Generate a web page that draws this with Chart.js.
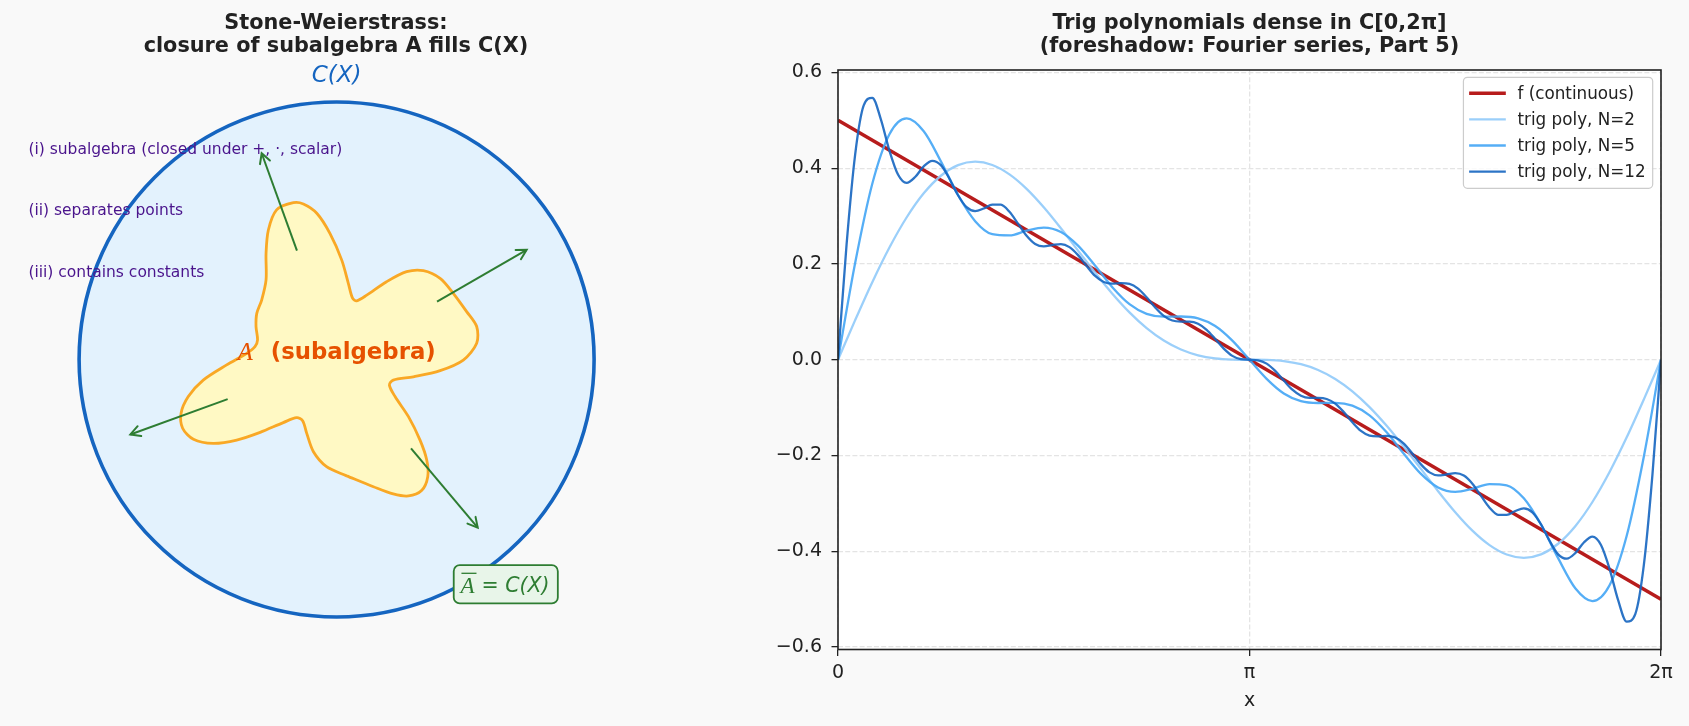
<!DOCTYPE html>
<html>
<head>
<meta charset="utf-8">
<script src="https://cdn.jsdelivr.net/npm/chart.js@4.4.1/dist/chart.umd.min.js"></script>
<style>
  html, body { margin: 0; padding: 0; background: #f9f9f9; width: 1689px; height: 726px; overflow: hidden; }
  #left { position: absolute; left: 0; top: 0; }
  #right { position: absolute; left: 672px; top: 0; }
</style>
</head>
<body>
<canvas id="left" width="672" height="726"></canvas>
<canvas id="right" width="1017" height="726"></canvas>
<script>
// ---------------- Right panel data ----------------
const xFine = [0, 0.0654, 0.1309, 0.1963, 0.2618, 0.3272, 0.3927, 0.4581, 0.5236, 0.5890, 0.6545, 0.7199, 0.7854, 0.8508, 0.9163, 0.9817, 1.0472, 1.1126, 1.1781, 1.2435, 1.3090, 1.3744, 1.4399, 1.5053, 1.5708, 1.6362, 1.7017, 1.7671, 1.8326, 1.8980, 1.9635, 2.0289, 2.0944, 2.1598, 2.2253, 2.2907, 2.3562, 2.4216, 2.4871, 2.5525, 2.6180, 2.6834, 2.7489, 2.8143, 2.8798, 2.9452, 3.0107, 3.0761, 3.1416, 3.2070, 3.2725, 3.3379, 3.4034, 3.4688, 3.5343, 3.5997, 3.6652, 3.7306, 3.7961, 3.8615, 3.9270, 3.9924, 4.0579, 4.1233, 4.1888, 4.2542, 4.3197, 4.3851, 4.4506, 4.5160, 4.5815, 4.6469, 4.7124, 4.7778, 4.8433, 4.9087, 4.9742, 5.0396, 5.1051, 5.1705, 5.2360, 5.3014, 5.3669, 5.4323, 5.4978, 5.5632, 5.6287, 5.6941, 5.7596, 5.8250, 5.8905, 5.9559, 6.0214, 6.0868, 6.1523, 6.2177, 6.2832];
const xCoarse = [0, 0.1309, 0.2618, 0.3927, 0.5236, 0.6545, 0.7854, 0.9163, 1.0472, 1.1781, 1.3090, 1.4399, 1.5708, 1.7017, 1.8326, 1.9635, 2.0944, 2.2253, 2.3562, 2.4871, 2.6180, 2.7489, 2.8798, 3.0107, 3.1416, 3.2725, 3.4034, 3.5343, 3.6652, 3.7961, 3.9270, 4.0579, 4.1888, 4.3197, 4.4506, 4.5815, 4.7124, 4.8433, 4.9742, 5.1051, 5.2360, 5.3669, 5.4978, 5.6287, 5.7596, 5.8905, 6.0214, 6.1523, 6.2832];
const xLine = [0, 6.2832];

const fValues = [0.5, -0.5];
const n2Values = [0, 0.0827, 0.1620, 0.2344, 0.2970, 0.3475, 0.3842, 0.4063, 0.4135, 0.4066, 0.3870, 0.3568, 0.3183, 0.2744, 0.2279, 0.1815, 0.1378, 0.0988, 0.0659, 0.0400, 0.0213, 0.0093, 0.0028, 0.0004, 0,
  -0.0004, -0.0028, -0.0093, -0.0213, -0.0400, -0.0659, -0.0988, -0.1378, -0.1815, -0.2279, -0.2744, -0.3183, -0.3568, -0.3870, -0.4066, -0.4135, -0.4063, -0.3842, -0.3475, -0.2970, -0.2344, -0.1620, -0.0827, 0];
const n5Values = [0, 0.2019, 0.3674, 0.4708, 0.5038, 0.4770, 0.4143, 0.3440, 0.2894, 0.2621, 0.2596, 0.2695, 0.2759, 0.2667, 0.2383, 0.1962, 0.1516, 0.1161, 0.0959, 0.0900, 0.0903, 0.0865, 0.0704, 0.0399, 0,
  -0.0399, -0.0704, -0.0865, -0.0903, -0.0900, -0.0959, -0.1161, -0.1516, -0.1962, -0.2383, -0.2667, -0.2759, -0.2695, -0.2596, -0.2621, -0.2894, -0.3440, -0.4143, -0.4770, -0.5038, -0.4708, -0.3674, -0.2019, 0];
const n12Values = [0, 0.2405, 0.4285, 0.5312, 0.5470, 0.5020, 0.4365, 0.3867, 0.3692, 0.3815, 0.4038, 0.4154, 0.4063, 0.3780, 0.3435, 0.3185, 0.3104, 0.3159, 0.3241, 0.3237, 0.3089, 0.2842, 0.2588, 0.2418, 0.2368, 0.2395, 0.2415, 0.2352, 0.2185, 0.1958, 0.1750, 0.1624, 0.1590, 0.1601, 0.1585, 0.1486, 0.1305, 0.1092, 0.0915, 0.0819, 0.0798, 0.0797, 0.0752, 0.0626, 0.0434, 0.0232, 0.0081, 0.0011, 0,
  -0.0011, -0.0081, -0.0232, -0.0434, -0.0626, -0.0752, -0.0797, -0.0798, -0.0819, -0.0915, -0.1092, -0.1305, -0.1486, -0.1585, -0.1601, -0.1590, -0.1624, -0.1750, -0.1958, -0.2185, -0.2352, -0.2415, -0.2395, -0.2368, -0.2418, -0.2588, -0.2842, -0.3089, -0.3237, -0.3241, -0.3159, -0.3104, -0.3185, -0.3435, -0.3780, -0.4063, -0.4154, -0.4038, -0.3815, -0.3692, -0.3867, -0.4365, -0.5020, -0.5470, -0.5312, -0.4285, -0.2405, 0];

const seriesLabels = ['f (continuous)', 'trig poly, N=2', 'trig poly, N=5', 'trig poly, N=12'];
const xTickValues = [0, 3.14159265, 6.28318531];
const xTickLabels = ['0', 'π', '2π'];
const yTickValues = [-0.6, -0.4, -0.2, 0, 0.2, 0.4, 0.6];
const yTickLabels = ['−0.6', '−0.4', '−0.2', '0.0', '0.2', '0.4', '0.6'];
const rightTitle = ['Trig polynomials dense in C[0,2π]', '(foreshadow: Fourier series, Part 5)'];
const xAxisTitle = 'x';

// ---------------- Left panel data ----------------
const leftTitle = ['Stone-Weierstrass:', 'closure of subalgebra A fills C(X)'];
const circleCenter = [0, 0];
const circleRadius = 1;
const blobX = [0.039, 0.143, 0.220, 0.279, 0.330, 0.354, 0.350, 0.324, 0.279, 0.227, 0.205, 0.220, 0.298, 0.402, 0.492, 0.544, 0.544, 0.505, 0.453, 0.402, 0.337, 0.272, 0.194, 0.117, 0.078, 0.062, 0.046, 0.020, -0.026, -0.077, -0.129,
  -0.168, -0.233, -0.265, -0.274, -0.274, -0.291, -0.310, -0.313, -0.307, -0.317, -0.349, -0.427, -0.518, -0.576, -0.604, -0.598, -0.556, -0.479, -0.388, -0.297, -0.207, -0.155, -0.132, -0.116, -0.090, -0.039, 0.039];
const blobY = [-0.452, -0.494, -0.522, -0.530, -0.509, -0.455, -0.390, -0.313, -0.222, -0.144, -0.099, -0.080, -0.067, -0.043, -0.002, 0.063, 0.128, 0.186, 0.257, 0.315, 0.345, 0.341, 0.302, 0.250, 0.228, 0.238, 0.294, 0.386, 0.490, 0.568, 0.604,
  0.609, 0.581, 0.503, 0.412, 0.309, 0.231, 0.179, 0.128, 0.076, 0.050, 0.024, -0.021, -0.080, -0.144, -0.209, -0.267, -0.310, -0.326, -0.313, -0.283, -0.245, -0.226, -0.238, -0.287, -0.358, -0.416, -0.452];
const arrowTails = [[-0.154, 0.423], [0.390, 0.225], [-0.423, -0.154], [0.289, -0.345]];
const arrowHeads = [[-0.291, 0.801], [0.738, 0.426], [-0.801, -0.291], [0.548, -0.653]];
const spaceLabel = 'C(X)';
const spaceLabelPos = [0, 1.101];
const propertyLabels = ['(i) subalgebra (closed under +, ·, scalar)', '(ii) separates points', '(iii) contains constants'];
const propertyX = -1.197;
const propertyY = [0.814, 0.578, 0.337];
const subSymbol = 'A';
const subLabel = '(subalgebra)';
const subLabelPos = [0, 0.026];
const closureSymbol = 'A';
const closureRest = '= C(X)';
const closurePos = [0.657, -0.873];

// ---------------- helpers ----------------
const toPoints = (xs, ys) => xs.map((x, i) => ({ x: x, y: ys[i] }));
const labelFor = (vals, labels, v) => {
  const k = vals.findIndex(t => Math.abs(t - v) < 1e-6);
  return k >= 0 ? labels[k] : '';
};
function roundRectPath(ctx, x, y, w, h, r) {
  ctx.beginPath();
  ctx.moveTo(x + r, y);
  ctx.lineTo(x + w - r, y);
  ctx.arcTo(x + w, y, x + w, y + r, r);
  ctx.lineTo(x + w, y + h - r);
  ctx.arcTo(x + w, y + h, x + w - r, y + h, r);
  ctx.lineTo(x + r, y + h);
  ctx.arcTo(x, y + h, x, y + h - r, r);
  ctx.lineTo(x, y + r);
  ctx.arcTo(x, y, x + r, y, r);
  ctx.closePath();
}

// ---------------- Left chart ----------------
const diagramPlugin = {
  id: 'diagram',
  beforeDatasetsDraw(chart) {
    const ctx = chart.ctx, sx = chart.scales.x, sy = chart.scales.y;
    const cx = sx.getPixelForValue(circleCenter[0]);
    const cy = sy.getPixelForValue(circleCenter[1]);
    const r = sx.getPixelForValue(circleCenter[0] + circleRadius) - cx;
    ctx.save();
    ctx.beginPath();
    ctx.arc(cx, cy, r, 0, Math.PI * 2);
    ctx.fillStyle = '#e3f2fd';
    ctx.fill();
    ctx.lineWidth = 3.6;
    ctx.strokeStyle = '#1565c0';
    ctx.stroke();
    ctx.restore();
  },
  afterDatasetsDraw(chart) {
    const ctx = chart.ctx;
    chart.data.datasets.forEach((ds, i) => {
      if (!ds.isArrow) return;
      const pts = chart.getDatasetMeta(i).data;
      const a = pts[0], b = pts[1];
      const ang = Math.atan2(b.y - a.y, b.x - a.x);
      const L = 11, spread = 0.5;
      ctx.save();
      ctx.strokeStyle = ds.borderColor;
      ctx.lineWidth = ds.borderWidth;
      ctx.lineCap = 'round';
      ctx.beginPath();
      ctx.moveTo(b.x - L * Math.cos(ang - spread), b.y - L * Math.sin(ang - spread));
      ctx.lineTo(b.x, b.y);
      ctx.lineTo(b.x - L * Math.cos(ang + spread), b.y - L * Math.sin(ang + spread));
      ctx.stroke();
      ctx.restore();
    });
  },
  afterDraw(chart) {
    const ctx = chart.ctx, sx = chart.scales.x, sy = chart.scales.y;
    ctx.save();
    ctx.textBaseline = 'middle';
    // C(X)
    ctx.font = 'italic 23px "DejaVu Sans"';
    ctx.fillStyle = '#1565c0';
    ctx.textAlign = 'center';
    ctx.fillText(spaceLabel, sx.getPixelForValue(spaceLabelPos[0]), sy.getPixelForValue(spaceLabelPos[1]));
    // property labels
    ctx.font = '15.5px "DejaVu Sans"';
    ctx.fillStyle = '#4a148c';
    ctx.textAlign = 'left';
    propertyLabels.forEach((t, i) => ctx.fillText(t, sx.getPixelForValue(propertyX), sy.getPixelForValue(propertyY[i])));
    // subalgebra label
    ctx.font = 'italic 25px "Liberation Serif"';
    const wA = ctx.measureText(subSymbol).width;
    ctx.font = 'bold 22.8px "DejaVu Sans"';
    const wS = ctx.measureText(subLabel).width;
    const gap = 18;
    const total = wA + gap + wS;
    const lx = sx.getPixelForValue(subLabelPos[0]) - total / 2;
    const ly = sy.getPixelForValue(subLabelPos[1]);
    ctx.fillStyle = '#e65100';
    ctx.font = 'italic 25px "Liberation Serif"';
    ctx.fillText(subSymbol, lx, ly + 1);
    ctx.font = 'bold 22.8px "DejaVu Sans"';
    ctx.fillText(subLabel, lx + wA + gap, ly);
    // closure box
    ctx.font = 'italic 23px "Liberation Serif"';
    const wC = ctx.measureText(closureSymbol).width;
    ctx.font = 'italic 20.5px "DejaVu Sans"';
    const wR = ctx.measureText(closureRest).width;
    const g2 = 7;
    const cw = wC + g2 + wR;
    const bw = cw + 15, bh = 38.3;
    const bcx = sx.getPixelForValue(closurePos[0]);
    const bcy = sy.getPixelForValue(closurePos[1]);
    const bx = bcx - bw / 2, by = bcy - bh / 2;
    roundRectPath(ctx, bx, by, bw, bh, 6);
    ctx.fillStyle = '#e8f5e9';
    ctx.fill();
    ctx.lineWidth = 1.8;
    ctx.strokeStyle = '#2e7d32';
    ctx.stroke();
    ctx.fillStyle = '#2e7d32';
    const tx = bx + 6.7;
    ctx.font = 'italic 23px "Liberation Serif"';
    ctx.fillText(closureSymbol, tx, bcy + 3);
    ctx.lineWidth = 1.3;
    ctx.beginPath();
    ctx.moveTo(tx + 1, bcy - 11);
    ctx.lineTo(tx + wC + 2, bcy - 11);
    ctx.stroke();
    ctx.font = 'italic 20.5px "DejaVu Sans"';
    ctx.fillText(closureRest, tx + wC + g2, bcy + 2);
    ctx.restore();
  }
};

const leftDatasets = arrowTails.map((t, i) => ({
  isArrow: true,
  data: [{ x: t[0], y: t[1] }, { x: arrowHeads[i][0], y: arrowHeads[i][1] }],
  showLine: true,
  borderColor: '#2e7d32',
  borderWidth: 2,
  pointRadius: 0,
  tension: 0,
  order: 0
}));
leftDatasets.push({
  data: toPoints(blobX, blobY),
  showLine: true,
  fill: 'shape',
  backgroundColor: '#fff9c4',
  borderColor: '#f9a825',
  borderWidth: 2.8,
  pointRadius: 0,
  tension: 0.3,
  order: 5
});

new Chart(document.getElementById('left'), {
  type: 'scatter',
  data: { datasets: leftDatasets },
  options: {
    responsive: false,
    animation: false,
    devicePixelRatio: 1,
    layout: { padding: 0 },
    plugins: {
      legend: { display: false },
      tooltip: { enabled: false },
      title: {
        display: true,
        text: leftTitle,
        color: '#222222',
        font: { family: 'DejaVu Sans', size: 20.8, weight: 'bold', lineHeight: '23.5px' },
        padding: { top: 11.75, bottom: 11.25 }
      }
    },
    scales: {
      x: { type: 'linear', display: false, bounds: 'data', min: -1.3072, max: 1.3025 },
      y: { type: 'linear', display: false, bounds: 'data', min: -1.4233, max: 1.1243 }
    }
  },
  plugins: [diagramPlugin]
});

// ---------------- Right chart ----------------
const frameLegendPlugin = {
  id: 'frameLegend',
  beforeDraw(chart) {
    const { ctx, chartArea: a } = chart;
    ctx.save();
    ctx.fillStyle = '#ffffff';
    ctx.fillRect(a.left, a.top, a.right - a.left, a.bottom - a.top);
    ctx.restore();
  },
  afterDraw(chart) {
    const { ctx, chartArea: a } = chart;
    ctx.save();
    // spines
    ctx.strokeStyle = '#222222';
    ctx.lineWidth = 1.6;
    ctx.strokeRect(a.left, a.top, a.right - a.left, a.bottom - a.top);
    // legend
    const ds = chart.data.datasets;
    ctx.font = '16.8px "DejaVu Sans"';
    const maxW = Math.max(...ds.map(d => ctx.measureText(d.label).width));
    const w = 54 + maxW + 7, rowH = 26.1, h = 111;
    const right = a.right - 8.3, top = a.top + 7.3, left = right - w;
    roundRectPath(ctx, left, top, w, h, 4);
    ctx.fillStyle = 'rgba(255,255,255,0.8)';
    ctx.fill();
    ctx.strokeStyle = '#cccccc';
    ctx.lineWidth = 1.2;
    ctx.stroke();
    ctx.textBaseline = 'middle';
    ctx.textAlign = 'left';
    ds.forEach((d, i) => {
      const y = top + 16 + i * rowH;
      ctx.strokeStyle = d.borderColor;
      ctx.lineWidth = d.borderWidth;
      ctx.beginPath();
      ctx.moveTo(left + 5.7, y);
      ctx.lineTo(left + 42.4, y);
      ctx.stroke();
      ctx.fillStyle = '#222222';
      ctx.fillText(d.label, left + 54, y + 1);
    });
    ctx.restore();
  }
};

const gridOpts = {
  color: '#e4e4e4',
  lineWidth: 1.3,
  drawTicks: true,
  tickLength: 6.5,
  tickColor: '#222222',
  tickWidth: 1.3,
  tickBorderDash: []
};
const borderOpts = { display: false, dash: [5, 2.2] };
const tickFont = { family: 'DejaVu Sans', size: 19 };

new Chart(document.getElementById('right'), {
  type: 'line',
  data: {
    datasets: [
      { label: seriesLabels[0], data: toPoints(xLine, fValues), borderColor: '#b71c1c', borderWidth: 3.6, pointRadius: 0, tension: 0, order: 3 },
      { label: seriesLabels[1], data: toPoints(xCoarse, n2Values), borderColor: 'rgba(144,202,249,0.9)', borderWidth: 2.3, pointRadius: 0, cubicInterpolationMode: 'monotone', order: 2 },
      { label: seriesLabels[2], data: toPoints(xCoarse, n5Values), borderColor: 'rgba(66,165,245,0.9)', borderWidth: 2.3, pointRadius: 0, cubicInterpolationMode: 'monotone', order: 1 },
      { label: seriesLabels[3], data: toPoints(xFine, n12Values), borderColor: 'rgba(21,101,192,0.9)', borderWidth: 2.3, pointRadius: 0, cubicInterpolationMode: 'monotone', order: 0 }
    ]
  },
  options: {
    responsive: false,
    animation: false,
    devicePixelRatio: 1,
    layout: { padding: { left: 0, right: 28, top: 0, bottom: 0 } },
    plugins: {
      legend: { display: false },
      tooltip: { enabled: false },
      title: {
        display: true,
        fullSize: false,
        text: rightTitle,
        color: '#222222',
        font: { family: 'DejaVu Sans', size: 20.8, weight: 'bold', lineHeight: '23.5px' },
        padding: { top: 11.75, bottom: 11.25 }
      }
    },
    scales: {
      x: {
        type: 'linear',
        bounds: 'data',
        min: 0,
        max: 6.28318531,
        afterBuildTicks: s => { s.ticks = xTickValues.map(v => ({ value: v })); },
        afterFit: s => { s.height = 76.5; },
        ticks: {
          autoSkip: false, maxRotation: 0, color: '#222222', font: tickFont, padding: 5.5,
          callback: v => labelFor(xTickValues, xTickLabels, v)
        },
        grid: gridOpts,
        border: borderOpts,
        title: { display: true, text: xAxisTitle, color: '#222222', font: tickFont, padding: { top: 0, bottom: 13.6 } }
      },
      y: {
        type: 'linear',
        bounds: 'data',
        min: -0.605,
        max: 0.605,
        afterBuildTicks: s => { s.ticks = yTickValues.map(v => ({ value: v })); },
        afterFit: s => { s.width = 166; },
        ticks: {
          autoSkip: false, color: '#222222', font: tickFont, padding: 9.5,
          callback: v => labelFor(yTickValues, yTickLabels, v)
        },
        grid: gridOpts,
        border: borderOpts
      }
    }
  },
  plugins: [frameLegendPlugin]
});
</script>
</body>
</html>
